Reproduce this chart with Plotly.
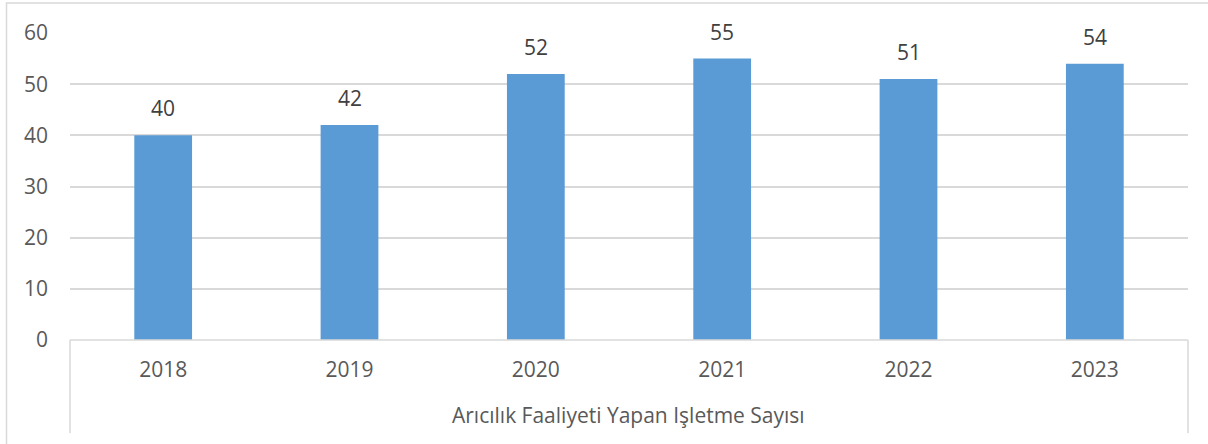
import plotly.graph_objects as go

years = ["2018", "2019", "2020", "2021", "2022", "2023"]
values = [40, 42, 52, 55, 51, 54]
group_label = "Arıcılık Faaliyeti Yapan Işletme Sayısı"
y_ticks = [0, 10, 20, 30, 40, 50, 60]

W, H = 1208, 444
L, R, T, B = 70, 20, 33, 104
pw, ph = W - L - R, H - T - B

def px_x(p):
    return (p - L) / pw

def px_y(p):
    return (H - B - p) / ph

FONT = "Open Sans"
GREY = "#595959"
LINE = "#d9d9d9"

fig = go.Figure()
fig.add_trace(go.Bar(
    x=years, y=values,
    marker=dict(color="#5b9bd5", line=dict(width=0)),
    hoverinfo="x+y",
))

for i, v in enumerate(values):
    fig.add_annotation(x=i, y=v, text=str(v), showarrow=False,
                       yanchor="middle", yshift=27,
                       font=dict(family=FONT, size=21, color="#404040"))

fig.add_annotation(xref="paper", yref="paper", x=px_x(628), y=px_y(415),
                   text=group_label, showarrow=False, yanchor="middle",
                   font=dict(family=FONT, size=21, color=GREY))

shapes = [
    dict(type="rect", xref="paper", yref="paper",
         x0=px_x(6.5), x1=px_x(1240), y0=px_y(470), y1=px_y(3),
         line=dict(color=LINE, width=1.5), layer="below"),
    dict(type="line", xref="paper", yref="paper", x0=0, x1=1, y0=0, y1=0,
         line=dict(color=LINE, width=1.5)),
    dict(type="line", xref="paper", yref="paper", x0=0, x1=0, y0=0, y1=px_y(433),
         line=dict(color=LINE, width=1.5)),
    dict(type="line", xref="paper", yref="paper", x0=1, x1=1, y0=0, y1=px_y(433),
         line=dict(color=LINE, width=1.5)),
]

fig.update_layout(
    width=W, height=H,
    margin=dict(l=L, r=R, t=T, b=B, autoexpand=False),
    paper_bgcolor="white", plot_bgcolor="white",
    bargap=0.69,
    showlegend=False,
    shapes=shapes,
    xaxis=dict(type="category", range=[-0.5, len(years) - 0.5],
               showgrid=False, showline=False, zeroline=False,
               ticks="", ticklabelstandoff=15,
               tickfont=dict(family=FONT, size=21, color=GREY)),
    yaxis=dict(range=[0, 60], tickvals=y_ticks, showgrid=True, gridcolor=LINE,
               gridwidth=1.5, zeroline=False, showline=False, ticks="",
               ticklabelstandoff=21,
               tickfont=dict(family=FONT, size=21, color=GREY)),
)

fig.write_html("out.html",
               config={"displayModeBar": False},
               post_script="document.body.style.margin='0';document.body.style.overflow='hidden';")
